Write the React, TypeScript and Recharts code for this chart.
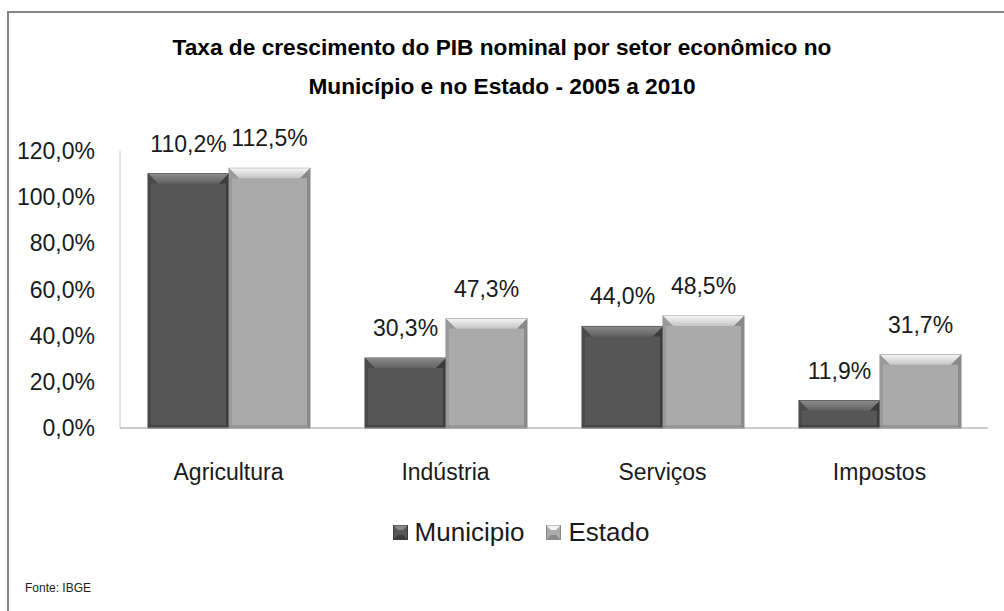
import React from 'react'
import { Bar, BarChart, XAxis, YAxis, LabelList } from 'recharts'

const categories = ['Agricultura', 'Indústria', 'Serviços', 'Impostos']
const municipio = [110.2, 30.3, 44.0, 11.9]
const estado = [112.5, 47.3, 48.5, 31.7]
const yTicks = [0, 20, 40, 60, 80, 100, 120]

const data = categories.map((name, i) => ({ name, municipio: municipio[i], estado: estado[i] }))

const FONT = '"Liberation Sans", Arial, sans-serif'

const palettes: Record<string, { base: string; top1: string; top2: string; side: string; edge: string }> = {
  municipio: { base: '#565656', top1: '#8a8a8a', top2: '#626262', side: '#4a4a4a', edge: '#3c3c3c' },
  estado: { base: '#aaaaaa', top1: '#f4f4f4', top2: '#c4c4c4', side: '#9a9a9a', edge: '#8a8a8a' },
}

const fmt = (v: number) => v.toFixed(1).replace('.', ',') + '%'

const BevelBar = (props: any) => {
  const { x, y, width: w, height: h, pal, id } = props
  if (!w || !h) return null
  const p = palettes[pal]
  const b = Math.min(10, h / 2)
  return (
    <g>
      <defs>
        <linearGradient id={'top-' + id} x1="0" y1="0" x2="0" y2="1">
          <stop offset="0%" stopColor={p.top1} />
          <stop offset="100%" stopColor={p.top2} />
        </linearGradient>
      </defs>
      <rect x={x} y={y} width={w} height={h} fill={p.base} stroke={p.edge} strokeWidth={1} />
      <polygon points={`${x},${y} ${x + w},${y} ${x + w - b},${y + b} ${x + b},${y + b}`} fill={`url(#top-${id})`} />
      <polygon points={`${x},${y} ${x + b},${y + b} ${x + 3},${y + b} ${x + 3},${y + h} ${x},${y + h}`} fill={p.side} />
      <polygon points={`${x + w},${y} ${x + w - b},${y + b} ${x + w - 3},${y + b} ${x + w - 3},${y + h} ${x + w},${y + h}`} fill={p.edge} />
      <rect x={x} y={y + h - 3} width={w} height={3} fill={p.edge} opacity={0.6} />
    </g>
  )
}

const LegendBox = ({ pal }: { pal: string }) => {
  const p = palettes[pal]
  return (
    <svg width={15} height={15} style={{ marginRight: 7, verticalAlign: 'middle', position: 'relative', top: -2 }}>
      <rect x={0.5} y={0.5} width={14} height={14} fill={p.base} stroke={p.edge} />
      <polygon points="0.5,0.5 14.5,0.5 10,5 5,5" fill={p.top1} />
      <polygon points="0.5,14.5 14.5,14.5 10,10 5,10" fill={p.edge} />
    </svg>
  )
}

export default function App() {
  return (
    <div style={{ position: 'absolute', left: 0, top: 0, width: 1004, height: 611, background: '#fff', fontFamily: FONT }}>
      <div style={{ position: 'absolute', left: 7, top: 11, right: 0, bottom: 0, borderLeft: '2px solid #858585', borderTop: '2px solid #858585' }} />
      <div style={{ position: 'absolute', left: 0, top: 28, width: 1004, textAlign: 'center', fontWeight: 'bold', fontSize: 22.7, lineHeight: '39px', color: '#000' }}>
        <div>Taxa de crescimento do PIB nominal por setor econômico no</div>
        <div>Município e no Estado - 2005 a 2010</div>
      </div>
      <BarChart
        width={1004}
        height={611}
        data={data}
        margin={{ top: 151, right: 16, bottom: 153, left: 20 }}
        barCategoryGap={28}
        barGap={0}
        style={{ position: 'absolute', left: 0, top: 0 }}
      >
        <YAxis
          width={100}
          domain={[0, 120]}
          ticks={yTicks}
          interval={0}
          tickFormatter={fmt}
          tickLine={false}
          tickSize={0}
          tickMargin={25}
          axisLine={{ stroke: '#c8c8c8' }}
          tick={{ fill: '#1a1a1a', fontSize: 23, fontFamily: FONT }}
        />
        <XAxis
          dataKey="name"
          height={30}
          tickLine={false}
          tickSize={0}
          tickMargin={36}
          axisLine={{ stroke: '#9a9a9a' }}
          tick={{ fill: '#1a1a1a', fontSize: 23, fontFamily: FONT }}
        />
        <Bar dataKey="municipio" isAnimationActive={false} shape={(p: any) => <BevelBar {...p} pal="municipio" id={'m' + p.index} />}>
          <LabelList dataKey="municipio" position="top" offset={22} formatter={(v: any) => fmt(Number(v))} style={{ fill: '#1a1a1a', fontSize: 23, fontFamily: FONT }} />
        </Bar>
        <Bar dataKey="estado" isAnimationActive={false} shape={(p: any) => <BevelBar {...p} pal="estado" id={'e' + p.index} />}>
          <LabelList dataKey="estado" position="top" offset={22} formatter={(v: any) => fmt(Number(v))} style={{ fill: '#1a1a1a', fontSize: 23, fontFamily: FONT }} />
        </Bar>
      </BarChart>
      <div style={{ position: 'absolute', left: 19, top: 517, width: 1004, textAlign: 'center', fontSize: 26, color: '#1a1a1a', lineHeight: '30px' }}>
        <span style={{ marginRight: 22 }}><LegendBox pal="municipio" />Municipio</span>
        <span><LegendBox pal="estado" />Estado</span>
      </div>
      <div style={{ position: 'absolute', left: 25, top: 581, fontSize: 12, color: '#222' }}>Fonte: IBGE</div>
    </div>
  )
}
